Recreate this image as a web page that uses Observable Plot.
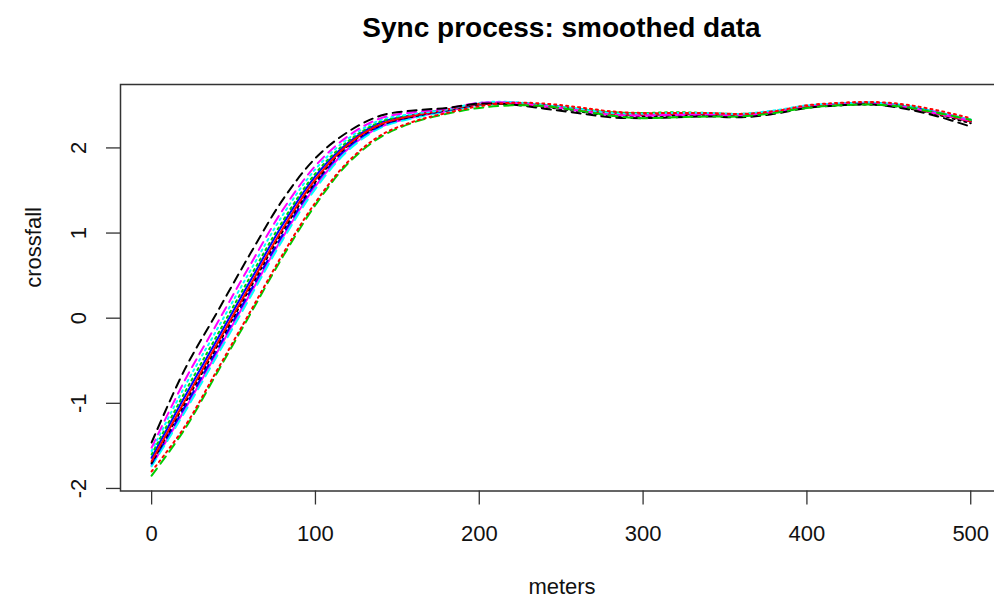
<!DOCTYPE html>
<html><head><meta charset="utf-8">
<script src="https://cdn.jsdelivr.net/npm/d3@7"></script>
<script src="https://cdn.jsdelivr.net/npm/@observablehq/plot@0.6"></script>
<style>
html,body{margin:0;padding:0;background:#fff;overflow:hidden;width:994px;height:601px;}
#title{height:60px;width:883px;margin-left:120px;text-align:center;font:bold 28px "Liberation Sans",Arial,sans-serif;line-height:56px;color:#000;}
#chart svg{display:block;max-width:none !important;width:1010px !important;height:541px !important;}
</style></head><body>
<div id="title">Sync process: smoothed data</div>
<div id="chart"></div>
<script>
const meters = [0,20,40,60,80,100,120,140,160,180,200,220,240,260,280,300,320,340,360,380,400,420,440,460,480,500];
const xTicks = [0,100,200,300,400,500];
const yTicks = [-2,-1,0,1,2];

const kDashed = [-1.46,-0.61,0.07,0.75,1.39,1.88,2.19,2.38,2.44,2.47,2.52,2.51,2.46,2.41,2.36,2.35,2.36,2.37,2.36,2.40,2.47,2.50,2.51,2.46,2.37,2.25];
const mDashed = [-1.52,-0.74,-0.06,0.62,1.27,1.79,2.14,2.35,2.42,2.46,2.53,2.53,2.49,2.44,2.39,2.38,2.39,2.39,2.38,2.42,2.48,2.51,2.52,2.48,2.40,2.32];
const cDotted = [-1.56,-0.81,-0.13,0.55,1.21,1.75,2.11,2.33,2.40,2.45,2.53,2.54,2.50,2.46,2.41,2.40,2.41,2.41,2.40,2.44,2.50,2.52,2.53,2.49,2.41,2.33];
const gDotted = [-1.60,-0.88,-0.20,0.48,1.14,1.70,2.08,2.31,2.39,2.45,2.52,2.53,2.50,2.46,2.42,2.41,2.42,2.41,2.40,2.43,2.49,2.51,2.52,2.49,2.41,2.32];
const bSolid  = [-1.64,-0.93,-0.25,0.43,1.10,1.67,2.06,2.30,2.39,2.45,2.52,2.53,2.50,2.45,2.40,2.39,2.40,2.40,2.39,2.43,2.49,2.52,2.53,2.49,2.41,2.31];
const rSolid  = [-1.68,-0.98,-0.30,0.38,1.05,1.63,2.04,2.28,2.38,2.45,2.52,2.52,2.49,2.45,2.40,2.39,2.40,2.40,2.39,2.43,2.49,2.51,2.52,2.48,2.40,2.31];
const kDotted = [-1.70,-1.01,-0.33,0.35,1.02,1.60,2.03,2.27,2.37,2.44,2.51,2.52,2.48,2.43,2.38,2.37,2.38,2.39,2.38,2.42,2.48,2.50,2.51,2.47,2.39,2.29];
const bDashed = [-1.71,-1.05,-0.37,0.31,0.98,1.58,2.01,2.26,2.37,2.44,2.51,2.53,2.50,2.46,2.41,2.40,2.40,2.40,2.39,2.42,2.48,2.51,2.52,2.48,2.40,2.31];
const mSolid  = [-1.73,-1.08,-0.40,0.28,0.95,1.55,1.99,2.25,2.36,2.43,2.51,2.52,2.49,2.45,2.40,2.38,2.39,2.39,2.38,2.42,2.48,2.51,2.52,2.49,2.42,2.33];
const cDashed = [-1.74,-1.11,-0.44,0.24,0.92,1.52,1.97,2.24,2.35,2.43,2.50,2.52,2.50,2.46,2.41,2.39,2.40,2.40,2.39,2.43,2.49,2.52,2.53,2.50,2.42,2.33];
const rDashed = [-1.80,-1.28,-0.61,0.07,0.75,1.36,1.84,2.15,2.31,2.41,2.49,2.53,2.52,2.48,2.43,2.41,2.41,2.41,2.40,2.43,2.50,2.53,2.54,2.51,2.44,2.35];
const gDashed = [-1.85,-1.31,-0.64,0.04,0.72,1.33,1.82,2.13,2.30,2.40,2.47,2.50,2.49,2.44,2.38,2.35,2.36,2.37,2.37,2.41,2.47,2.50,2.51,2.48,2.41,2.33];

const DASH = "9,6", DOT = "2,4";
const series = [
  {v: mSolid,  c: "#FF00FF", d: null},
  {v: cDashed, c: "#00FFFF", d: DASH},
  {v: bDashed, c: "#0000FF", d: DASH},
  {v: kDotted, c: "#000000", d: DOT},
  {v: bSolid,  c: "#0000FF", d: null},
  {v: gDotted, c: "#00CD00", d: DOT},
  {v: rSolid,  c: "#FF0000", d: null},
  {v: cDotted, c: "#00FFFF", d: DOT},
  {v: mDashed, c: "#FF00FF", d: DASH},
  {v: kDashed, c: "#000000", d: DASH},
  {v: gDashed, c: "#00CD00", d: DASH},
  {v: rDashed, c: "#FF0000", d: DOT}
];

const font = "'Liberation Sans', Arial, sans-serif";
const lines = series.map(s => Plot.line(meters.map((m, i) => ({m, y: s.v[i]})), {
  x: "m", y: "y", stroke: s.c, strokeWidth: 2, curve: "catmull-rom",
  strokeDasharray: s.d || undefined
}));

const chart = Plot.plot({
  width: 1010, height: 541,
  marginTop: 24, marginBottom: 110.5, marginLeft: 120, marginRight: 7,
  style: {fontFamily: font, fontSize: "22px", color: "#000", background: "#fff", overflow: "visible"},
  x: {domain: [-19, 520]},
  y: {domain: [-2.03, 2.745]},
  marks: [
    ...lines,
    Plot.frame({stroke: "#333", strokeWidth: 1.5}),
    Plot.axisX(xTicks, {tickSize: 14, tickPadding: 20, fontSize: 22, label: null, stroke: "#333", strokeWidth: 1.3, fill: "#111"}),
    Plot.axisY(yTicks, {tickSize: 14, tickFormat: () => "", label: null, stroke: "#333", strokeWidth: 1.3}),
    Plot.text(yTicks, {y: d => d, frameAnchor: "left", dx: -42, rotate: -90, text: d => String(d), fontSize: 22, textAnchor: "middle", lineAnchor: "middle", fill: "#111"}),
    Plot.text(["crossfall"], {frameAnchor: "left", dx: -87, rotate: -90, text: d => d, fontSize: 22, lineAnchor: "middle", fill: "#111"}),
    Plot.text(["meters"], {frameAnchor: "bottom", dy: 96, text: d => d, fontSize: 22, lineAnchor: "middle", fill: "#111"})
  ]
});
document.getElementById("chart").appendChild(chart);
</script></body></html>
